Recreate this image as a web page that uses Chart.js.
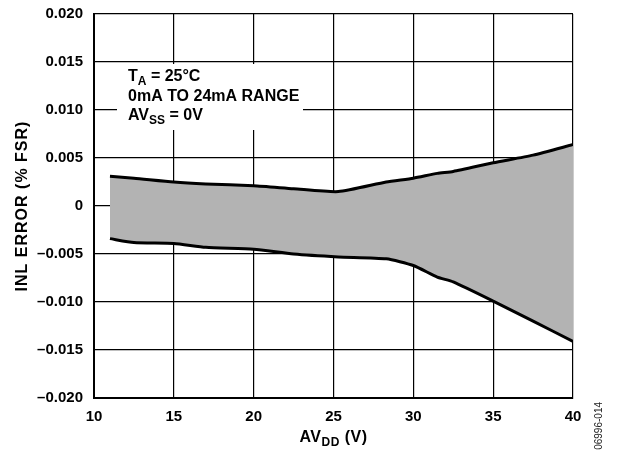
<!DOCTYPE html>
<html>
<head>
<meta charset="utf-8">
<script src="https://cdn.jsdelivr.net/npm/chart.js@4"></script>
<style>
  html, body { margin: 0; padding: 0; background: #fff; }
  #wrap { width: 618px; height: 451px; }
</style>
</head>
<body>
<div id="wrap"><canvas id="inlChart"></canvas></div>
<script>
// AVDD (V)
const avdd = [11, 12.5, 15, 17, 20, 22.5, 25.3, 28.3, 30, 31.5, 32.5, 35, 37.5, 40];
// INL error (% FSR), upper and lower envelope
const inlMax = [0.0031, 0.0029, 0.0025, 0.0023, 0.0021, 0.0018, 0.0015, 0.0025, 0.0029, 0.0034, 0.0036, 0.0045, 0.0053, 0.0064];
const inlMin = [-0.0034, -0.0038, -0.0039, -0.0043, -0.0045, -0.0050, -0.0053, -0.0055, -0.0062, -0.0074, -0.0079, -0.0099, -0.0120, -0.0141];

const xTickLabels = ['10', '15', '20', '25', '30', '35', '40'];
const yTickLabels = ['–0.020', '–0.015', '–0.010', '–0.005', '0', '0.005', '0.010', '0.015', '0.020'];

const FONT = '"Liberation Sans", Arial, sans-serif';

// draws text made of parts, some as subscripts
function drawRich(ctx, parts, x, y, size) {
    let cx = x;
    parts.forEach(p => {
        const s = p.sub ? Math.round(size * 0.75) : size;
        ctx.font = 'bold ' + s + 'px ' + FONT;
        ctx.fillText(p.t, cx, p.sub ? y + 4 : y);
        cx += ctx.measureText(p.t).width;
    });
    return cx - x;
}
function richWidth(ctx, parts, size) {
    let w = 0;
    parts.forEach(p => {
        const s = p.sub ? Math.round(size * 0.75) : size;
        ctx.font = 'bold ' + s + 'px ' + FONT;
        w += ctx.measureText(p.t).width;
    });
    return w;
}

const noteLines = [
    [{ t: 'T' }, { t: 'A', sub: true }, { t: ' = 25°C' }],
    [{ t: '0mA TO 24mA RANGE' }],
    [{ t: 'AV' }, { t: 'SS', sub: true }, { t: ' = 0V' }]
];
const xTitle = [{ t: 'AV' }, { t: 'DD', sub: true }, { t: ' (V)' }];
const yTitle = 'INL ERROR (% FSR)';
const figId = '06996-014';

const textPlugin = {
    id: 'texts',
    beforeDatasetsDraw(chart) {
        const ctx = chart.ctx;
        const a = chart.chartArea;
        ctx.save();
        // white box behind the note
        ctx.fillStyle = '#fff';
        ctx.fillRect(a.left + 23, a.top + 50, 186, 66);
        ctx.fillStyle = '#000';
        ctx.textBaseline = 'alphabetic';
        ctx.textAlign = 'left';
        noteLines.forEach((line, i) => {
            drawRich(ctx, line, a.left + 34, a.top + 67 + i * 19.5, 16);
        });
        ctx.restore();
    },
    afterDraw(chart) {
        const ctx = chart.ctx;
        const a = chart.chartArea;
        ctx.save();
        ctx.fillStyle = '#000';
        ctx.textAlign = 'left';
        ctx.textBaseline = 'alphabetic';
        // x axis title
        ctx.letterSpacing = '0.5px';
        const w = richWidth(ctx, xTitle, 16);
        drawRich(ctx, xTitle, (a.left + a.right) / 2 - w / 2, 442, 16);
        // y axis title
        ctx.translate(27, (a.top + a.bottom) / 2);
        ctx.rotate(-Math.PI / 2);
        ctx.textAlign = 'center';
        ctx.letterSpacing = '1px';
        ctx.font = 'bold 16px ' + FONT;
        ctx.fillText(yTitle, 0, 0);
        ctx.restore();
        // figure id
        ctx.save();
        ctx.translate(602, 402);
        ctx.rotate(-Math.PI / 2);
        ctx.textAlign = 'right';
        ctx.fillStyle = '#222';
        ctx.font = '10px ' + FONT;
        ctx.fillText(figId, 0, 0);
        ctx.restore();
    }
};

const ctx = document.getElementById('inlChart').getContext('2d');
new Chart(ctx, {
    type: 'line',
    data: {
        datasets: [
            {
                label: 'min',
                data: avdd.map((v, i) => ({ x: v, y: inlMin[i] })),
                borderColor: '#000',
                borderWidth: 3,
                pointRadius: 0,
                tension: 0.2,
                fill: false
            },
            {
                label: 'max',
                data: avdd.map((v, i) => ({ x: v, y: inlMax[i] })),
                borderColor: '#000',
                borderWidth: 3,
                pointRadius: 0,
                tension: 0.2,
                backgroundColor: '#b3b3b3',
                fill: '-1'
            }
        ]
    },
    options: {
        responsive: true,
        maintainAspectRatio: false,
        animation: false,
        layout: { padding: { left: 0, right: 45, top: 14, bottom: 0 } },
        plugins: {
            legend: { display: false },
            tooltip: { enabled: false }
        },
        scales: {
            x: {
                type: 'linear',
                min: 10,
                max: 40,
                ticks: {
                    stepSize: 5,
                    padding: 10,
                    color: '#000',
                    font: { family: FONT, size: 15, weight: 'bold' },
                    callback: (v, i) => xTickLabels[i]
                },
                grid: { color: '#000', lineWidth: 1.2, drawTicks: false },
                border: { color: '#000', width: 2 },
                afterFit: s => { s.height = 53; s.paddingLeft = 0; s.paddingRight = 0; }
            },
            y: {
                min: -0.02,
                max: 0.02,
                ticks: {
                    stepSize: 0.005,
                    padding: 11,
                    color: '#000',
                    font: { family: FONT, size: 15, weight: 'bold' },
                    callback: (v, i) => yTickLabels[i]
                },
                grid: { color: '#000', lineWidth: 1.2, drawTicks: false },
                border: { color: '#000', width: 2 },
                afterFit: s => { s.width = 94; s.paddingTop = 0; s.paddingBottom = 0; }
            }
        }
    },
    plugins: [textPlugin]
});
</script>
</body>
</html>
